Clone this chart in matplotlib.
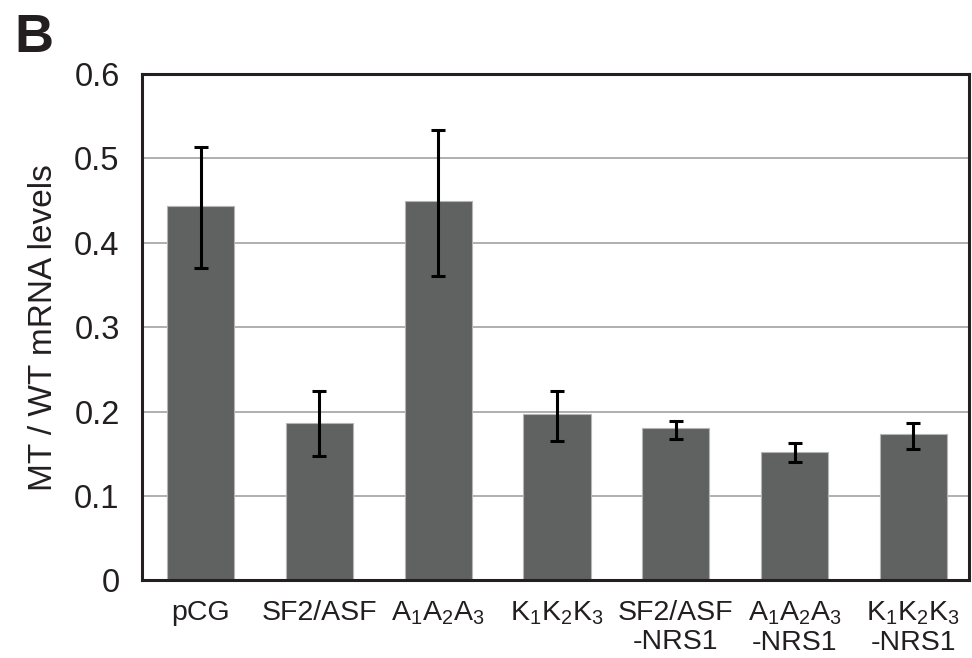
import matplotlib
matplotlib.use("Agg")
import matplotlib.pyplot as plt
import numpy as np

plt.rcParams['font.family'] = ['Liberation Sans', 'DejaVu Sans']
plt.rcParams['mathtext.fontset'] = 'custom'
plt.rcParams['mathtext.rm'] = 'Liberation Sans'
plt.rcParams['mathtext.it'] = 'Liberation Sans'

categories = ["pCG", "SF2/ASF", r"$\mathregular{A_1A_2A_3}$", r"$\mathregular{K_1K_2K_3}$",
              "SF2/ASF\n-NRS1", "$\\mathregular{A_1A_2A_3}$\n-NRS1", "$\\mathregular{K_1K_2K_3}$\n-NRS1"]
values = [0.444, 0.187, 0.449, 0.197, 0.180, 0.152, 0.174]
err_upper = [0.513, 0.224, 0.534, 0.224, 0.189, 0.163, 0.187]
err_lower = [0.370, 0.147, 0.361, 0.165, 0.167, 0.140, 0.156]
yticks = [0, 0.1, 0.2, 0.3, 0.4, 0.5, 0.6]
ytick_labels = ["0", "0.1", "0.2", "0.3", "0.4", "0.5", "0.6"]

txt = '#231f20'
fig = plt.figure(figsize=(9.72, 6.58), dpi=100)
ax = fig.add_axes([0.146, 0.118, 0.851, 0.7695])

x = np.arange(len(categories))
vals = np.array(values)
yerr = np.array([vals - np.array(err_lower), np.array(err_upper) - vals])
ax.bar(x, vals, width=0.565, color='#606161', edgecolor='#b5b5b5', linewidth=0.8, zorder=2)
ax.errorbar(x, vals, yerr=yerr, fmt='none', ecolor='black', elinewidth=2.2,
            capsize=4.7, capthick=2.2, zorder=3)

ax.set_xlim(-0.495, 6.47)
ax.set_ylim(0, 0.6)
ax.set_yticks(yticks)
ax.set_yticklabels(ytick_labels, fontsize=23.5, color=txt)
ax.set_xticks(x)
ax.set_xticklabels(categories, fontsize=20.5, color=txt, linespacing=1.15, va='top')
ax.tick_params(axis='y', length=0, pad=16)
ax.tick_params(axis='x', length=0, pad=14)
ax.yaxis.grid(True, color='#9a9a9a', linewidth=1.1, zorder=0)
ax.set_axisbelow(True)
for s in ax.spines.values():
    s.set_linewidth(2.2)
    s.set_color(txt)
    s.set_zorder(4)

ax.set_ylabel("MT / WT mRNA levels", fontsize=24, color=txt)
ax.yaxis.set_label_coords(-0.1, 0.5)

fig.text(0.015, 0.921, "B", fontsize=39, fontweight='bold', color=txt, va='baseline', ha='left')

fig.savefig("out.png", dpi=100)
